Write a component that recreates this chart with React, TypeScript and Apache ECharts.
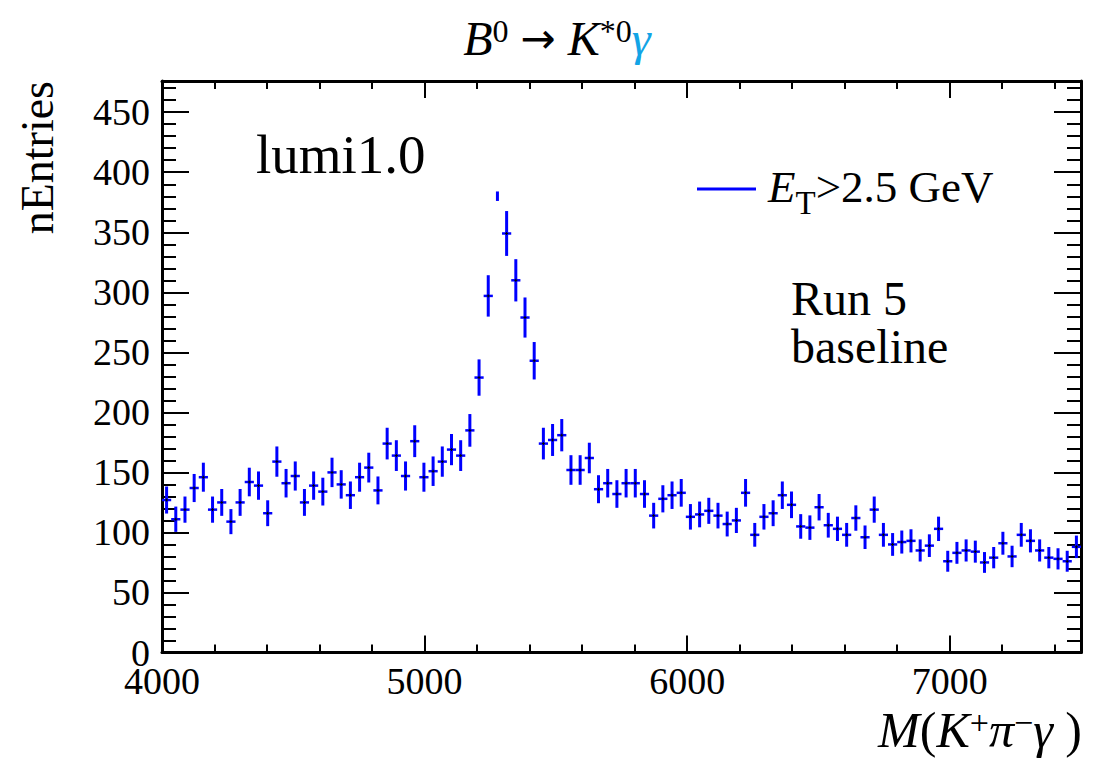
import React, { useEffect, useRef } from "react";
import * as echarts from "echarts";

// ---- data ----
const X_MIN = 4000;
const X_MAX = 7500;
const BIN_WIDTH = 35;
const Y_MIN = 0;
const Y_MAX = 476;
// the histogram itself was drawn only up to this value (the peak bin's error bar is cut there)
const HIST_DRAW_MAX = 384;

// nEntries per bin, 100 bins of 35 MeV from 4000 to 7500
const counts: number[] = [
  127, 111, 119, 137, 146, 119, 125, 109, 125, 142,
  139, 116, 159, 141, 147, 125, 139, 134, 150, 140,
  131, 146, 154, 135, 174, 164, 147, 176, 146, 151,
  159, 169, 164, 185, 229, 297, 396, 349, 310, 279,
  243, 174, 177, 181, 152, 152, 162, 136, 141, 132,
  141, 141, 132, 114, 128, 131, 133, 113, 115, 118,
  114, 107, 110, 133, 98, 113, 116, 131, 123, 105,
  104, 121, 106, 103, 98, 112, 96, 119, 98, 90,
  92, 93, 85, 89, 103, 76, 83, 85, 84, 75,
  79, 91, 80, 98, 93, 85, 79, 78, 76, 88,
];

const TITLE_TEXT = "{i|B}{s|0}{n| }{a|→}{n| }{i|K}{s|*0}{g|γ}";
const X_TITLE = "{i|M}{n|(}{i|K}{s|+}{i|π}{s|−}{i|γ}{n| )}";
const Y_TITLE = "nEntries";
const LUMI_TEXT = "lumi1.0";
const LEGEND_TEXT = "{e|E}{t|T}{n|>2.5 GeV}";
const RUN_TEXT = "Run 5";
const BASE_TEXT = "baseline";

const BLUE = "#0000ff";
const GAMMA = "#12a4e6";
const FONT = "'Liberation Serif', 'Times New Roman', serif";

const binCenters = counts.map((_, i) => X_MIN + BIN_WIDTH * (i + 0.5));

export default function App() {
  const ref = useRef<HTMLDivElement>(null);
  useEffect(() => {
    if (!ref.current) return;
    const chart = echarts.init(ref.current, null, { renderer: "svg" });
    const data = counts.map((c, i) => [binCenters[i], c]);

    const axisLineStyle = { color: "#000", width: 3 };
    const tickStyle = { color: "#000", width: 2 };
    const plain = (v: number) => String(v);

    const xMajor = (position: string, labels: boolean) => ({
      type: "value",
      position,
      min: X_MIN,
      max: X_MAX,
      interval: 1000,
      axisLine: { show: true, onZero: false, lineStyle: axisLineStyle },
      axisTick: { show: true, inside: true, length: 17, lineStyle: tickStyle },
      axisLabel: {
        show: labels,
        fontSize: 38,
        fontFamily: FONT,
        color: "#000",
        margin: 9,
        showMaxLabel: false,
        formatter: plain,
      },
      splitLine: { show: false },
    });
    const xMinor = (position: string) => ({
      type: "value",
      position,
      min: X_MIN,
      max: X_MAX,
      interval: 200,
      axisLine: { show: false, onZero: false },
      axisTick: { show: true, inside: true, length: 8, lineStyle: tickStyle },
      axisLabel: { show: false },
      splitLine: { show: false },
    });
    const yMajor = (position: string, labels: boolean) => ({
      type: "value",
      position,
      min: Y_MIN,
      max: Y_MAX,
      interval: 50,
      axisLine: { show: true, onZero: false, lineStyle: axisLineStyle },
      axisTick: { show: true, inside: true, length: 27, lineStyle: tickStyle },
      axisLabel: {
        show: labels,
        fontSize: 38,
        fontFamily: FONT,
        color: "#000",
        margin: 12,
        showMaxLabel: false,
        formatter: plain,
      },
      splitLine: { show: false },
    });
    const yMinor = (position: string) => ({
      type: "value",
      position,
      min: Y_MIN,
      max: Y_MAX,
      interval: 10,
      axisLine: { show: false, onZero: false },
      axisTick: { show: true, inside: true, length: 14, lineStyle: tickStyle },
      axisLabel: { show: false },
      splitLine: { show: false },
    });

    const richMain = (fs: number) => ({
      i: { fontSize: fs, fontFamily: FONT, fontStyle: "italic", lineHeight: fs, fill: "#000" },
      n: { fontSize: fs, fontFamily: FONT, lineHeight: fs, fill: "#000" },
    });

    const plainText = (text: string, x: number, y: number, fs: number) => ({
      type: "text",
      x,
      y,
      style: {
        text,
        font: `${fs}px ${FONT}`,
        fontSize: fs,
        fontFamily: FONT,
        fill: "#000",
        align: "left",
        verticalAlign: "middle",
        textAlign: "left",
        textVerticalAlign: "middle",
      },
    });

    chart.setOption({
      animation: false,
      backgroundColor: "#fff",
      grid: { left: 162, top: 81, right: 21, bottom: 105.5, containLabel: false },
      xAxis: [xMajor("bottom", true), xMinor("bottom"), xMajor("top", false), xMinor("top")],
      yAxis: [yMajor("left", true), yMinor("left"), yMajor("right", false), yMinor("right")],
      series: [
        {
          type: "custom",
          coordinateSystem: "cartesian2d",
          xAxisIndex: 0,
          yAxisIndex: 0,
          data,
          encode: { x: 0, y: 1 },
          renderItem: (_params: any, api: any) => {
            const x = api.value(0) as number;
            const v = api.value(1) as number;
            const e = Math.sqrt(v);
            const lo = Math.max(Y_MIN, v - e);
            const hi = Math.min(HIST_DRAW_MAX, v + e);
            const halfW = (api.size([BIN_WIDTH, 0]) as number[])[0] / 2;
            const children: any[] = [];
            if (hi > lo) {
              const a = api.coord([x, hi]);
              const b = api.coord([x, lo]);
              children.push({
                type: "line",
                shape: { x1: a[0], y1: a[1], x2: b[0], y2: b[1] },
                style: { stroke: BLUE, lineWidth: 3 },
              });
            }
            if (v <= HIST_DRAW_MAX) {
              const c = api.coord([x, v]);
              children.push({
                type: "line",
                shape: { x1: c[0] - halfW, y1: c[1], x2: c[0] + halfW, y2: c[1] },
                style: { stroke: BLUE, lineWidth: 2.5 },
              });
              children.push({
                type: "line",
                shape: { x1: c[0] - 1.5, y1: c[1], x2: c[0] + 1.5, y2: c[1] },
                style: { stroke: "#000", lineWidth: 1 },
              });
              children.push({
                type: "line",
                shape: { x1: c[0], y1: c[1] - 1.5, x2: c[0], y2: c[1] + 1.5 },
                style: { stroke: "#000", lineWidth: 1 },
              });
            }
            return { type: "group", children };
          },
          z: 5,
        },
      ],
      graphic: [
        {
          type: "text",
          x: 557,
          y: 38.5,
          style: {
            text: TITLE_TEXT,
            align: "center",
            verticalAlign: "middle",
            textAlign: "center",
            textVerticalAlign: "middle",
            rich: {
              ...richMain(48),
              a: { fontSize: 42, fontFamily: "'DejaVu Sans', sans-serif", lineHeight: 48, fill: "#000" },
              s: { fontSize: 32, fontFamily: FONT, lineHeight: 6, verticalAlign: "top", fill: "#000" },
              g: { fontSize: 48, fontFamily: FONT, fontStyle: "italic", lineHeight: 48, fill: GAMMA },
            },
          },
        },
        {
          type: "text",
          x: 1082,
          y: 730,
          style: {
            text: X_TITLE,
            align: "right",
            verticalAlign: "middle",
            textAlign: "right",
            textVerticalAlign: "middle",
            rich: {
              ...richMain(50),
              s: { fontSize: 34, fontFamily: FONT, lineHeight: 8, verticalAlign: "top", fill: "#000" },
            },
          },
        },
        {
          type: "text",
          x: 37.5,
          y: 81,
          rotation: Math.PI / 2,
          style: {
            text: Y_TITLE,
            font: `46px ${FONT}`,
            fontSize: 46,
            fontFamily: FONT,
            fill: "#000",
            align: "right",
            verticalAlign: "middle",
            textAlign: "right",
            textVerticalAlign: "middle",
          },
        },
        plainText(LUMI_TEXT, 256, 154.4, 55),
        {
          type: "line",
          shape: { x1: 697, y1: 189, x2: 756, y2: 189 },
          style: { stroke: BLUE, lineWidth: 3 },
        },
        {
          type: "text",
          x: 768,
          y: 187,
          style: {
            text: LEGEND_TEXT,
            align: "left",
            verticalAlign: "middle",
            textAlign: "left",
            textVerticalAlign: "middle",
            rich: {
              e: { fontSize: 45, fontFamily: FONT, fontStyle: "italic", lineHeight: 45, verticalAlign: "top", fill: "#000" },
              t: { fontSize: 33, fontFamily: FONT, lineHeight: 33, padding: [22, 0, 0, 0], verticalAlign: "top", fill: "#000" },
              n: { fontSize: 45, fontFamily: FONT, lineHeight: 45, verticalAlign: "top", fill: "#000" },
            },
          },
        },
        plainText(RUN_TEXT, 791, 298.8, 48),
        plainText(BASE_TEXT, 791, 346.8, 48),
      ],
    });
    return () => chart.dispose();
  }, []);

  return (
    <div
      ref={ref}
      style={{ position: "fixed", left: 0, top: 0, width: 1102, height: 758, background: "#fff" }}
    />
  );
}
